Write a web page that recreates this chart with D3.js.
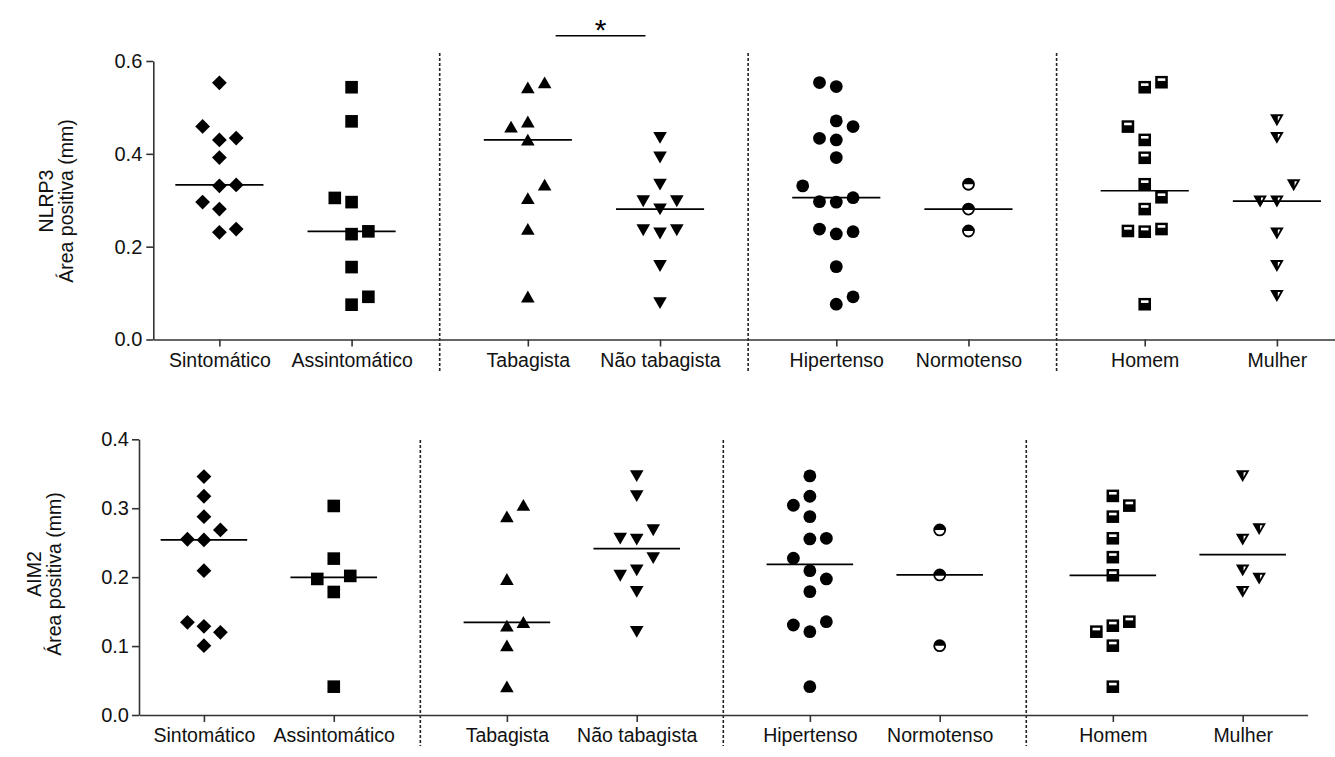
<!DOCTYPE html>
<html>
<head>
<meta charset="utf-8">
<script src="https://cdn.jsdelivr.net/npm/d3@7"></script>
<style>
  html, body { margin: 0; padding: 0; background: #fff; }
  svg { display: block; font-family: "Liberation Sans", Arial, Helvetica, sans-serif; }
</style>
</head>
<body>
<svg id="chart" width="1335" height="757"></svg>
<script>
// Group labels shared by both panels
const categories = ["Sintomático", "Assintomático", "Tabagista", "Não tabagista",
                    "Hipertenso", "Normotenso", "Homem", "Mulher"];

// NLRP3 positive area (mm), one array per group
const nlrp3Sintomatico   = [0.553, 0.430, 0.392, 0.331, 0.281, 0.231, 0.434, 0.459, 0.333, 0.296, 0.238];
const nlrp3Assintomatico = [0.5435, 0.470, 0.296, 0.227, 0.156, 0.075, 0.233, 0.305, 0.092];
const nlrp3Tabagista     = [0.5427, 0.469, 0.430, 0.304, 0.2375, 0.092, 0.5535, 0.458, 0.333];
const nlrp3NaoTabagista  = [0.435, 0.3927, 0.3345, 0.281, 0.229, 0.159, 0.079, 0.2985, 0.2985, 0.236, 0.236];
const nlrp3Hipertenso    = [0.545, 0.471, 0.430, 0.392, 0.296, 0.2274, 0.157, 0.076,
                            0.4587, 0.5535, 0.4335, 0.092, 0.3056, 0.297, 0.331, 0.2323, 0.238];
const nlrp3Normotenso    = [0.3345, 0.281, 0.2338];
const nlrp3Homem         = [0.5435, 0.430, 0.3915, 0.3345, 0.281, 0.2323, 0.076, 0.5543, 0.4587, 0.3064, 0.2338, 0.238];
const nlrp3Mulher        = [0.473, 0.435, 0.298, 0.229, 0.159, 0.0944, 0.333, 0.298];

// AIM2 positive area (mm), one array per group
const aim2Sintomatico   = [0.3459, 0.3174, 0.2878, 0.254, 0.2094, 0.1287, 0.1006, 0.2685, 0.255, 0.120, 0.1345];
const aim2Assintomatico = [0.3033, 0.2269, 0.1785, 0.0411, 0.2018, 0.1974];
const aim2Tabagista     = [0.2878, 0.1969, 0.1292, 0.1006, 0.0411, 0.3043, 0.1345];
const aim2NaoTabagista  = [0.3469, 0.3179, 0.255, 0.2104, 0.179, 0.1209, 0.2685, 0.2564, 0.2279, 0.2025];
const aim2Hipertenso    = [0.3469, 0.3174, 0.2878, 0.2554, 0.2094, 0.179, 0.1209, 0.0411,
                           0.2564, 0.3043, 0.1354, 0.1306, 0.2274, 0.1974];
const aim2Normotenso    = [0.2685, 0.2032, 0.1006];
const aim2Homem         = [0.3179, 0.2878, 0.2564, 0.2290, 0.2027, 0.1296, 0.1006, 0.0411, 0.3038, 0.1354, 0.1209];
const aim2Mulher        = [0.3469, 0.255, 0.2104, 0.179, 0.270, 0.1984];

// Y tick values
const nlrp3Ticks = [0.0, 0.2, 0.4, 0.6];
const aim2Ticks  = [0.0, 0.1, 0.2, 0.3, 0.4];

// Significance bracket between Tabagista and Não tabagista (NLRP3)
const nlrp3Significance = [{ from: 2, to: 3, label: "*" }];

// Marker per group, in category order
const markerKinds = ["diamond", "square", "triangleUp", "triangleDown",
                     "circle", "halfCircle", "halfSquare", "halfTriangleDown"];

const svg = d3.select("#chart");
const INK = "#000";
const AXIS = "#333";

// groups sit in pairs, with an extra third of a slot between pairs
const slotOf = i => i + Math.floor(i / 2) / 3;

// Column scatter: each point goes on the centre line unless a neighbour is too close,
// then it moves to the nearest free side lane (the side with more room wins;
// on a tie, odd lane pairs lean right and even ones lean left).
function spread(values, y, minGap, roomCap) {
  const placed = [];
  return values.map(v => {
    const py = y(v);
    const clear = lane => {
      const m = d3.min(placed.filter(p => p.lane === lane), p => Math.abs(p.py - py));
      return m === undefined ? Infinity : m;
    };
    let lane = 0;
    if (clear(0) < minGap) {
      for (let k = 1; k < 10; k++) {
        const cR = clear(k), cL = clear(-k);
        if (cR < minGap && cL < minGap) continue;
        if (cR < minGap) { lane = -k; break; }
        if (cL < minGap) { lane = k; break; }
        const rR = Math.min(cR, roomCap), rL = Math.min(cL, roomCap);
        if (rR === rL) lane = (k % 2 === 1) ? k : -k;
        else lane = rR > rL ? k : -k;
        break;
      }
    }
    placed.push({ lane, py });
    return { v, lane, py };
  });
}

function drawMarker(g, kind) {
  switch (kind) {
    case "diamond":
      g.append("path").attr("d", "M0,-7.4L7.4,0L0,7.4L-7.4,0Z").attr("fill", INK);
      break;
    case "square":
      g.append("rect").attr("x", -6.3).attr("y", -6.3).attr("width", 12.6).attr("height", 12.6).attr("fill", INK);
      break;
    case "triangleUp":
      g.append("path").attr("d", "M0,-6.2L6.8,5.6L-6.8,5.6Z").attr("fill", INK);
      break;
    case "triangleDown":
      g.append("path").attr("d", "M-6.8,-5.6L6.8,-5.6L0,6.2Z").attr("fill", INK);
      break;
    case "circle":
      g.append("circle").attr("r", 6.4).attr("fill", INK);
      break;
    case "halfCircle":
      g.append("circle").attr("r", 5.5).attr("fill", "#fff").attr("stroke", INK).attr("stroke-width", 1.8);
      g.append("path").attr("d", "M-5.5,0A5.5,5.5 0 0 1 5.5,0Z").attr("fill", INK);
      break;
    case "halfSquare":
      g.append("rect").attr("x", -6.3).attr("y", -6.3).attr("width", 12.6).attr("height", 12.6).attr("fill", INK);
      g.append("rect").attr("x", -3.8).attr("y", -3.9).attr("width", 7.6).attr("height", 2.6).attr("fill", "#fff");
      break;
    case "halfTriangleDown":
      g.append("path").attr("d", "M-6.8,-5.6L6.8,-5.6L0,6.2Z").attr("fill", INK);
      g.append("path").attr("d", "M0.9,-3.6L3.4,-3.6L0.9,1.0Z").attr("fill", "#fff");
      break;
  }
}

function drawPanel(opt) {
  const g = svg.append("g");
  const x = d3.scaleLinear().domain([-0.5, slotOf(7) + 0.5]).range([opt.x0, opt.x1]);
  const y = d3.scaleLinear().domain([0, d3.max(opt.ticks)]).range([opt.y0, opt.y1]);
  const unit = x(1) - x(0);
  const lane = unit * 0.127;

  // vertical dashed separators between the pairs of groups
  [1, 3, 5].forEach(i => {
    const xm = (x(slotOf(i)) + x(slotOf(i + 1))) / 2;
    g.append("line")
      .attr("x1", xm).attr("x2", xm)
      .attr("y1", opt.sepTop).attr("y2", opt.sepBottom)
      .attr("stroke", "#222").attr("stroke-width", 1.6)
      .attr("stroke-dasharray", "3,2");
  });

  // y axis
  const yAxis = g.append("g")
    .attr("transform", `translate(${opt.x0},0)`)
    .call(d3.axisLeft(y).tickValues(opt.ticks).tickFormat(d3.format(".1f"))
      .tickSize(7).tickSizeOuter(0).tickPadding(opt.yPad));
  yAxis.select(".domain").attr("stroke", AXIS).attr("stroke-width", 1.6);
  yAxis.selectAll(".tick line").attr("stroke", AXIS).attr("stroke-width", 1.6);
  yAxis.selectAll(".tick text").attr("font-size", 20).attr("fill", "#111")
    .attr("font-family", "'Liberation Sans', Arial, sans-serif");

  // x axis with category labels
  const xAxis = g.append("g")
    .attr("transform", `translate(0,${opt.y0})`)
    .call(d3.axisBottom(x).tickValues(categories.map((c, i) => slotOf(i)))
      .tickFormat((d, i) => categories[i]).tickSize(7).tickSizeOuter(0).tickPadding(6.5));
  xAxis.select(".domain").attr("stroke", AXIS).attr("stroke-width", 1.6);
  xAxis.selectAll(".tick line").attr("stroke", AXIS).attr("stroke-width", 1.6);
  xAxis.selectAll(".tick text").attr("font-size", 19.5).attr("fill", "#111")
    .attr("font-family", "'Liberation Sans', Arial, sans-serif");

  // y axis title, two rotated lines
  opt.title.forEach((t, k) => {
    g.append("text")
      .attr("transform", `translate(${opt.titleX[k]},${opt.titleY}) rotate(-90)`)
      .attr("text-anchor", "middle")
      .attr("font-size", 19.5).attr("fill", "#111")
      .text(t);
  });

  // points and medians
  opt.series.forEach((vals, i) => {
    const cx = x(slotOf(i));
    const pts = spread(vals, y, 17, 46);
    pts.forEach(p => {
      const m = g.append("g").attr("transform", `translate(${cx + p.lane * lane},${p.py})`);
      drawMarker(m, markerKinds[i]);
    });
    const med = d3.median(vals);
    g.append("line")
      .attr("x1", cx - unit / 3).attr("x2", cx + unit / 3)
      .attr("y1", y(med)).attr("y2", y(med))
      .attr("stroke", INK).attr("stroke-width", 1.7);
  });

  // significance brackets
  (opt.significance || []).forEach(s => {
    const xa = x(slotOf(s.from)), xb = x(slotOf(s.to));
    const xl = xa + unit * 0.21, xr = xb - unit * 0.11;
    g.append("line")
      .attr("x1", xl).attr("x2", xr).attr("y1", opt.sigY).attr("y2", opt.sigY)
      .attr("stroke", INK).attr("stroke-width", 1.5);
    g.append("text")
      .attr("x", (xl + xr) / 2).attr("y", opt.sigY + 4)
      .attr("text-anchor", "middle").attr("font-size", 30).attr("fill", INK)
      .text(s.label);
  });
}

drawPanel({
  series: [nlrp3Sintomatico, nlrp3Assintomatico, nlrp3Tabagista, nlrp3NaoTabagista,
           nlrp3Hipertenso, nlrp3Normotenso, nlrp3Homem, nlrp3Mulher],
  ticks: nlrp3Ticks,
  x0: 153.3, x1: 1343, y0: 339.5, y1: 61,
  sepTop: 53, sepBottom: 372,
  yPad: 4,
  title: ["NLRP3", "Área positiva (mm)"], titleX: [53, 73], titleY: 201,
  significance: nlrp3Significance, sigY: 35.7
});

drawPanel({
  series: [aim2Sintomatico, aim2Assintomatico, aim2Tabagista, aim2NaoTabagista,
           aim2Hipertenso, aim2Normotenso, aim2Homem, aim2Mulher],
  ticks: aim2Ticks,
  x0: 139, x1: 1307.6, y0: 715, y1: 439.3,
  sepTop: 440, sepBottom: 746,
  yPad: 3,
  title: ["AIM2", "Área positiva (mm)"], titleX: [41, 61], titleY: 574
});
</script>
</body>
</html>
